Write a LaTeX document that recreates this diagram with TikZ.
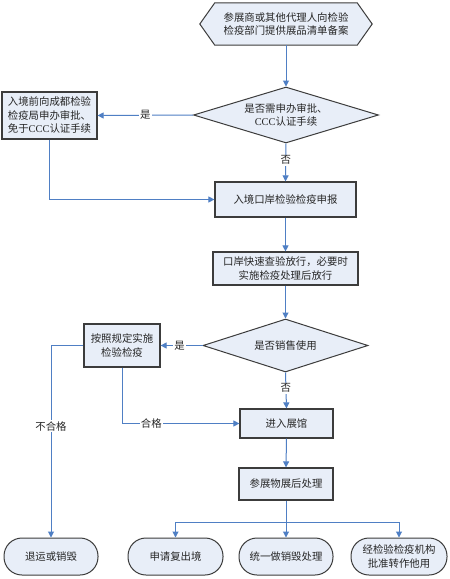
\documentclass[tikz,border=0pt]{standalone}
\usepackage{fontspec}
\newfontfamily\cjk{Noto Sans CJK SC}
\newfontfamily\lat{Liberation Serif}
\usetikzlibrary{shapes.geometric,arrows.meta,backgrounds}
\definecolor{boxfill}{HTML}{E8EEF8}
\definecolor{boxdraw}{HTML}{3C3C3C}
\definecolor{conn}{HTML}{4F7FC4}
\tikzset{
  base/.style={font=\cjk\fontsize{10.4}{13.5}\selectfont, align=center, inner sep=0pt, text=black!85},
  procbox/.style={base, draw=boxdraw, line width=1.2pt, fill=boxfill, rectangle},
  decbox/.style={base, draw=boxdraw, line width=1pt, fill=boxfill, diamond},
  termbox/.style={base, draw=boxdraw, line width=1pt, fill=boxfill, rectangle, rounded corners=18pt, minimum height=37pt},
  conline/.style={draw=conn, line width=1pt, -{Triangle[length=6pt,width=6pt]}},
  lbl/.style={font=\cjk\fontsize{10.4}{12}\selectfont, fill=white, inner sep=1pt, text=black!85}
}
\begin{document}
\begin{tikzpicture}[x=1pt,y=-1pt]
\useasboundingbox (0,0) rectangle (450,579);

\node[base, minimum width=142pt, minimum height=42pt] (n1) at (286,24) {参展商或其他代理人向检验\\检疫部门提供展品清单备案};
\begin{scope}[on background layer]
\fill[white] (0,0) rectangle (450,579);
\draw[draw=boxdraw, line width=1pt, fill=boxfill] (n1.north west) -- (n1.north east) -- ([xshift=15pt]n1.east) -- (n1.south east) -- (n1.south west) -- ([xshift=-15pt]n1.west) -- cycle;
\end{scope}

\node[decbox, aspect=3.3, minimum width=185pt, minimum height=56pt] (d1) at (286,115) {是否需申办审批、\\{\lat CCC}认证手续};
\node[procbox, minimum width=95pt, minimum height=47pt] (b1) at (49.5,115.5) {入境前向成都检验\\检疫局申办审批、\\免于{\lat CCC}认证手续};
\node[procbox, minimum width=141pt, minimum height=35pt] (b2) at (285.5,199.5) {入境口岸检验检疫申报};
\node[procbox, minimum width=145pt, minimum height=33pt] (b3) at (285.5,268.5) {口岸快速查验放行，必要时\\实施检疫处理后放行};
\node[decbox, aspect=3.1, minimum width=165pt, minimum height=53pt] (d2) at (285.5,345.5) {是否销售使用};
\node[procbox, minimum width=76pt, minimum height=43pt] (b4) at (122,345.5) {按照规定实施\\检验检疫};
\node[procbox, minimum width=93pt, minimum height=29pt] (b5) at (286.5,423.5) {进入展馆};
\node[procbox, minimum width=94pt, minimum height=32pt] (b6) at (286,484) {参展物展后处理};
\node[termbox, minimum width=94pt] (t1) at (51,556.5) {退运或销毁};
\node[termbox, minimum width=95pt] (t2) at (175.5,556.5) {申请复出境};
\node[termbox, minimum width=94pt] (t3) at (286,556.5) {统一做销毁处理};
\node[termbox, minimum width=96pt] (t4) at (399,556.5) {经检验检疫机构\\批准转作他用};
\coordinate (br) at (286,522);

\draw[conline] (n1.south) -- (d1.north);
\draw[conline] (d1.west) -- node[lbl, pos=0.5] {是} (b1.east);
\draw[conline] (d1.south) -- node[lbl, pos=0.44] {否} (b2.north);
\draw[conline] (b1.south) |- (b2.west);
\draw[conline] (b2.south) -- (b3.north);
\draw[conline] (b3.south) -- (d2.north);
\draw[conline] (d2.west) -- node[lbl, pos=0.55] {是} (b4.east);
\draw[conline] (d2.south) -- node[lbl, pos=0.44] {否} (b5.north);
\draw[conline] (b4.south) |- node[lbl, pos=0.625] {合格} (b5.west);
\draw[conline] (b4.west) -| node[lbl, pos=0.71] {不合格} (t1.north);
\draw[conline] (b5.south) -- (b6.north);
\draw[conline] (b6.south) -- (t3.north);
\draw[conline] (br) -| (t2.north);
\draw[conline] (br) -| (t4.north);
\end{tikzpicture}
\end{document}
